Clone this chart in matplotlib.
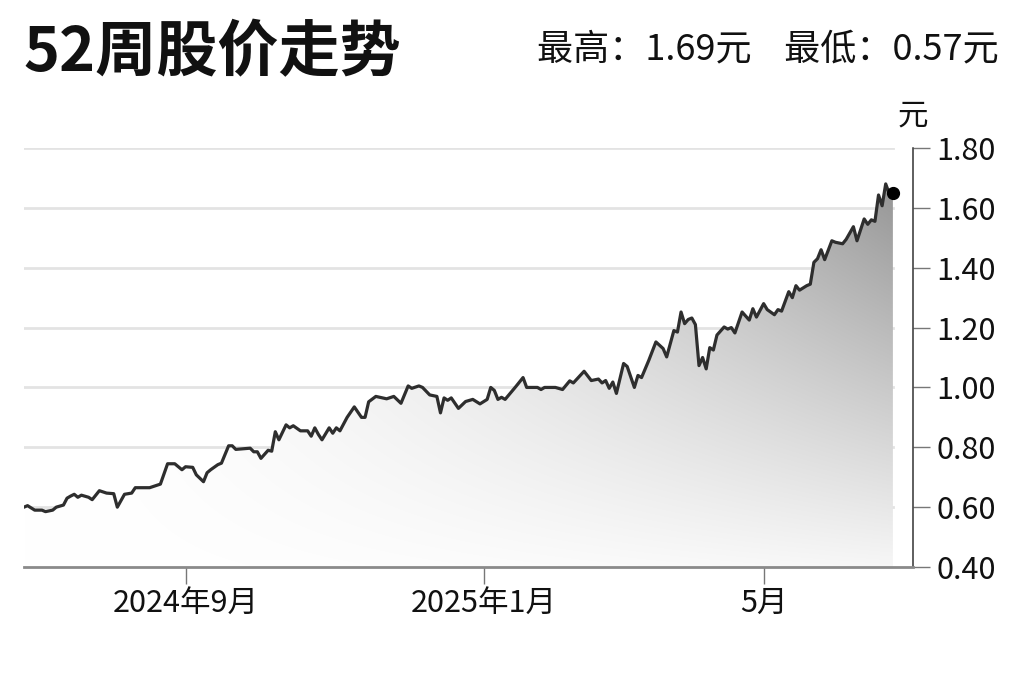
import numpy as np
import matplotlib.pyplot as plt
from matplotlib.patches import Polygon

plt.rcParams['font.family'] = ['Noto Sans CJK SC', 'DejaVu Sans']

# trading-day index and close price (元)
days = [0, 1, 3, 5, 6, 8, 9, 11, 12, 13, 14, 15, 16, 18, 19, 21, 23, 25, 26, 28,
        30, 31, 35, 37, 38, 40, 42, 44, 45, 47, 48, 50, 51, 52, 54, 55, 57, 58, 59, 63,
        64, 65, 66, 68, 69, 70, 71, 73, 74, 75, 77, 79, 80, 81, 82, 83, 85, 86, 87, 88,
        90, 92, 94, 95, 96, 98, 101, 103, 105, 107, 108, 110, 111, 113, 115, 116, 117, 118, 119, 121,
        123, 125, 127, 129, 130, 131, 132, 133, 134, 137, 139, 140, 143, 144, 145, 148, 150, 152, 153, 156,
        158, 160, 161, 162, 163, 164, 165, 167, 168, 170, 171, 172, 174, 176, 178, 179, 181, 182, 183, 184,
        185, 186, 187, 188, 189, 190, 191, 192, 193, 195, 196, 197, 198, 200, 202, 203, 204, 206, 207, 209,
        210, 211, 213, 214, 215, 216, 218, 219, 220, 221, 222, 223, 225, 226, 228, 229, 231, 232, 234, 235,
        236, 237, 238, 239, 240, 241, 242]
price = [0.600, 0.605, 0.590, 0.590, 0.585, 0.590, 0.600, 0.607, 0.630, 0.637, 0.643, 0.633, 0.640, 0.633, 0.625, 0.655, 0.647, 0.645, 0.600, 0.643,
         0.647, 0.665, 0.665, 0.673, 0.677, 0.745, 0.745, 0.725, 0.735, 0.733, 0.708, 0.685, 0.715, 0.725, 0.742, 0.747, 0.805, 0.805, 0.793, 0.797,
         0.785, 0.785, 0.763, 0.790, 0.787, 0.852, 0.825, 0.875, 0.865, 0.872, 0.855, 0.855, 0.837, 0.865, 0.843, 0.825, 0.865, 0.847, 0.865, 0.855,
         0.900, 0.935, 0.900, 0.900, 0.952, 0.970, 0.962, 0.970, 0.947, 1.005, 0.997, 1.005, 1.000, 0.975, 0.970, 0.915, 0.965, 0.957, 0.965, 0.930,
         0.953, 0.960, 0.945, 0.960, 1.000, 0.990, 0.960, 0.967, 0.960, 1.003, 1.033, 1.000, 1.000, 0.993, 1.000, 1.000, 0.993, 1.022, 1.015, 1.054,
         1.023, 1.028, 1.015, 1.023, 0.997, 1.018, 0.980, 1.080, 1.070, 1.000, 1.040, 1.033, 1.090, 1.152, 1.130, 1.102, 1.190, 1.185, 1.252, 1.213,
         1.227, 1.232, 1.210, 1.073, 1.100, 1.062, 1.133, 1.125, 1.175, 1.202, 1.195, 1.200, 1.182, 1.252, 1.225, 1.263, 1.235, 1.280, 1.260, 1.243,
         1.260, 1.255, 1.320, 1.300, 1.340, 1.325, 1.340, 1.345, 1.418, 1.430, 1.460, 1.427, 1.490, 1.485, 1.480, 1.495, 1.537, 1.490, 1.563, 1.545,
         1.560, 1.555, 1.643, 1.607, 1.680, 1.647, 1.650]

tick_days = [45, 128, 206]
tick_labels = ['2024年9月', '2025年1月', '5月']
yticks = [0.40, 0.60, 0.80, 1.00, 1.20, 1.40, 1.60, 1.80]

fig = plt.figure(figsize=(10.24, 6.82), dpi=100)
ax = fig.add_axes([0.0234, 0.1686, 0.8682, 0.6144])
ax.set_xlim(0, 247.6)
ax.set_ylim(0.40, 1.80)

# grid lines stop where the data stops
for v in yticks[1:]:
    ax.plot([0, days[-1]], [v, v], color='#e3e3e3', lw=2, zorder=1)

# gradient fill under the line
gx = np.linspace(0, 1, 300)
gy = np.linspace(0, 1, 200)
GX, GY = np.meshgrid(gx, gy)
dark = 0.42 * GX ** 1.6 * (0.08 + 0.92 * GY)
img = np.dstack([1 - dark] * 3)
im = ax.imshow(img, extent=[0, days[-1], 0.40, 1.70], origin='lower',
               aspect='auto', zorder=2, interpolation='bilinear')
poly = Polygon(list(zip(days, price)) + [(days[-1], 0.40), (0, 0.40)],
               closed=True, transform=ax.transData, facecolor='none', edgecolor='none')
ax.add_patch(poly)
im.set_clip_path(poly)

ax.plot(days, price, color='#2e2e2e', lw=2.3, zorder=3, solid_joinstyle='round')
ax.plot(days[-1], price[-1], 'o', color='black', ms=8.5, zorder=4)

for s in ['left', 'top']:
    ax.spines[s].set_visible(False)
ax.spines['right'].set_color('#333333')
ax.spines['right'].set_linewidth(1.1)
ax.spines['bottom'].set_color('#8a8a8a')
ax.spines['bottom'].set_linewidth(2)

ax.yaxis.tick_right()
ax.set_yticks(yticks)
ax.set_yticklabels([f'{v:.2f}' for v in yticks])
ax.tick_params(axis='y', length=12, width=1, color='#777777', pad=5,
               labelsize=22, labelcolor='#111111')
ax.set_xticks(tick_days)
ax.set_xticklabels(tick_labels)
ax.tick_params(axis='x', length=12, width=1, color='#777777', pad=3,
               labelsize=22, labelcolor='#111111')

fig.text(0.023, 0.922, '52周股价走势', fontsize=44, fontweight='bold',
         color='#111111', va='center', ha='left')
fig.text(0.975, 0.927, '最高：1.69元    最低：0.57元', fontsize=26,
         color='#111111', va='center', ha='right')
fig.text(913 / 1024, 1 - 116 / 682, '元', fontsize=22, color='#111111',
         va='center', ha='center')

fig.savefig('out.png', dpi=100, facecolor='white')
